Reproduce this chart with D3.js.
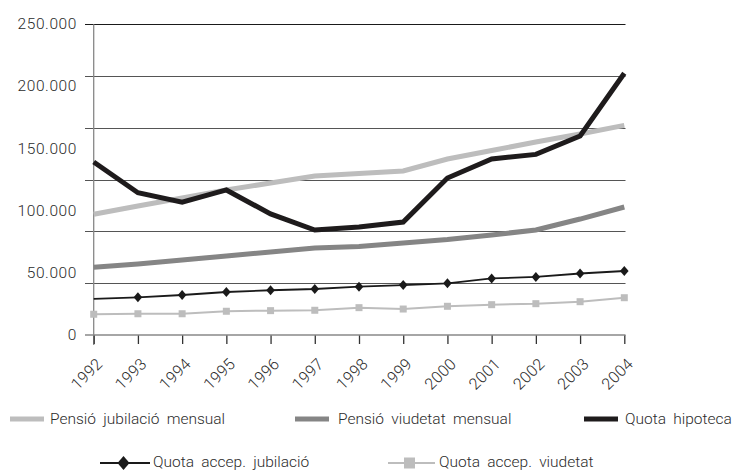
<!DOCTYPE html>
<html>
<head>
<meta charset="utf-8">
<script src="https://cdn.jsdelivr.net/npm/d3@7"></script>
<style>
  html, body { margin: 0; padding: 0; background: #fff; }
  svg { display: block; }
  text { font-family: Roboto, "Liberation Sans", Arial, sans-serif; font-weight: 300; fill: #2b2b2b; }
</style>
</head>
<body>
<svg id="chart" width="738" height="472"></svg>
<script>
// Years on the horizontal axis
const years = [1992, 1993, 1994, 1995, 1996, 1997, 1998, 1999, 2000, 2001, 2002, 2003, 2004];

// Series values (euros)
const pensioJubilacio = [97100, 103800, 110200, 116700, 122300, 127900, 129900, 132000, 141600, 148400, 155300, 161700, 168700];
const pensioViudetat  = [54500, 57100, 60300, 63600, 66800, 70000, 71200, 74000, 76800, 80500, 84500, 93300, 103000];
const quotaHipoteca   = [139200, 114500, 106800, 116700, 97400, 84500, 86900, 90900, 126300, 141600, 145300, 160100, 210600];
const quotaJubilacio  = [29000, 30300, 32200, 34600, 36000, 37000, 38900, 40200, 41600, 45500, 46700, 49500, 51500];
const quotaViudetat   = [16700, 17100, 17100, 19100, 19600, 19900, 22000, 20900, 23100, 24400, 25200, 26800, 30000];

// Value-axis labels
const yTickValues = [0, 50000, 100000, 150000, 200000, 250000];
const yTickLabels = ["0", "50.000", "100.000", "150.000", "200.000", "250.000"];
const yMax = 250000;
const gridCount = 6;

const svg = d3.select("#chart");

const x = d3.scalePoint().domain(years).range([93.7, 624.3]);
const y = d3.scaleLinear().domain([0, yMax]).range([335, 24.3]);

// Horizontal rules
const gridVals = d3.range(1, gridCount + 1).map(i => i * yMax / gridCount);
svg.append("g").selectAll("line").data(gridVals).join("line")
  .attr("x1", 85).attr("x2", 625.5)
  .attr("y1", d => Math.round(y(d)) + 0.5).attr("y2", d => Math.round(y(d)) + 0.5)
  .attr("stroke", (d, i) => i === gridVals.length - 1 ? "#1a1a1a" : "#555")
  .attr("stroke-width", 1.2);

// Value-axis labels
svg.append("g").selectAll("text").data(yTickValues).join("text")
  .attr("x", 77).attr("y", d => y(d))
  .attr("text-anchor", "end")
  .attr("dominant-baseline", "central")
  .attr("font-size", 15.5)
  .attr("letter-spacing", 0.6)
  .text((d, i) => yTickLabels[i]);

// Vertical axis line
svg.append("line")
  .attr("x1", 93.7).attr("x2", 93.7).attr("y1", 24.3).attr("y2", 345)
  .attr("stroke", "#888").attr("stroke-width", 1.3);

// Horizontal axis
const xAxis = svg.append("g").attr("transform", `translate(0,${y(0)})`)
  .call(d3.axisBottom(x).tickSize(9).tickSizeOuter(0).tickFormat(""));
xAxis.select(".domain").remove();
xAxis.selectAll(".tick line").attr("stroke", "#333").attr("stroke-width", 1.3);
svg.append("line")
  .attr("x1", 85).attr("x2", 625.5).attr("y1", y(0)).attr("y2", y(0))
  .attr("stroke", "#888").attr("stroke-width", 1.4);

svg.append("g").selectAll("text").data(years).join("text")
  .attr("transform", d => `translate(${x(d) + 6},${y(0) + 26}) rotate(-45)`)
  .attr("text-anchor", "end")
  .attr("dominant-baseline", "central")
  .attr("font-size", 16)
  .attr("letter-spacing", 0.3)
  .text(d => d);

const line = d3.line().x((d, i) => x(years[i])).y(d => y(d));

function drawSeries(values, color, width) {
  svg.append("path").datum(values)
    .attr("d", line)
    .attr("fill", "none")
    .attr("stroke", color)
    .attr("stroke-width", width)
    .attr("stroke-linejoin", "miter");
}

drawSeries(pensioViudetat, "#858585", 5);
drawSeries(pensioJubilacio, "#bdbdbd", 5);
drawSeries(quotaHipoteca, "#1e1b1c", 5);
drawSeries(quotaViudetat, "#bdbdbd", 2);
drawSeries(quotaJubilacio, "#1a1a1a", 1.8);

const diamond = (w, h) => `M0,${-h}L${w},0L0,${h}L${-w},0Z`;

// Square markers
svg.append("g").selectAll("rect").data(quotaViudetat).join("rect")
  .attr("x", (d, i) => x(years[i]) - 3.5)
  .attr("y", d => y(d) - 3.5)
  .attr("width", 7).attr("height", 7)
  .attr("fill", "#bdbdbd");

// Diamond markers (the first year has none)
svg.append("g").selectAll("path").data(quotaJubilacio.slice(1)).join("path")
  .attr("transform", (d, i) => `translate(${x(years[i + 1])},${y(d)})`)
  .attr("d", diamond(4.3, 5))
  .attr("fill", "#1a1a1a");

// Legend
const legendText = (tx, ty, label) => svg.append("text")
  .attr("x", tx).attr("y", ty)
  .attr("dominant-baseline", "central")
  .attr("font-size", 15.5)
  .attr("word-spacing", 3.5)
  .text(label);

const swatches = [
  { x: 10, color: "#bdbdbd", tx: 50, label: "Pensió jubilació mensual" },
  { x: 295, color: "#858585", tx: 338, label: "Pensió viudetat mensual" },
  { x: 584, color: "#1e1b1c", tx: 625, label: "Quota hipoteca" }
];
swatches.forEach(s => {
  svg.append("rect").attr("x", s.x).attr("y", 416.5).attr("width", 34).attr("height", 5).attr("fill", s.color);
  legendText(s.tx, 418.5, s.label);
});

svg.append("line").attr("x1", 100).attr("x2", 150).attr("y1", 463).attr("y2", 463)
  .attr("stroke", "#1a1a1a").attr("stroke-width", 2.2);
svg.append("path").attr("transform", "translate(123.5,463)").attr("d", diamond(6, 7)).attr("fill", "#1a1a1a");
legendText(153, 462, "Quota accep. jubilació");

svg.append("line").attr("x1", 388).attr("x2", 435).attr("y1", 463).attr("y2", 463)
  .attr("stroke", "#bdbdbd").attr("stroke-width", 2.2);
svg.append("rect").attr("x", 404).attr("y", 457.5).attr("width", 11).attr("height", 11).attr("fill", "#bdbdbd");
legendText(439, 462, "Quota accep. viudetat");
</script>
</body>
</html>
